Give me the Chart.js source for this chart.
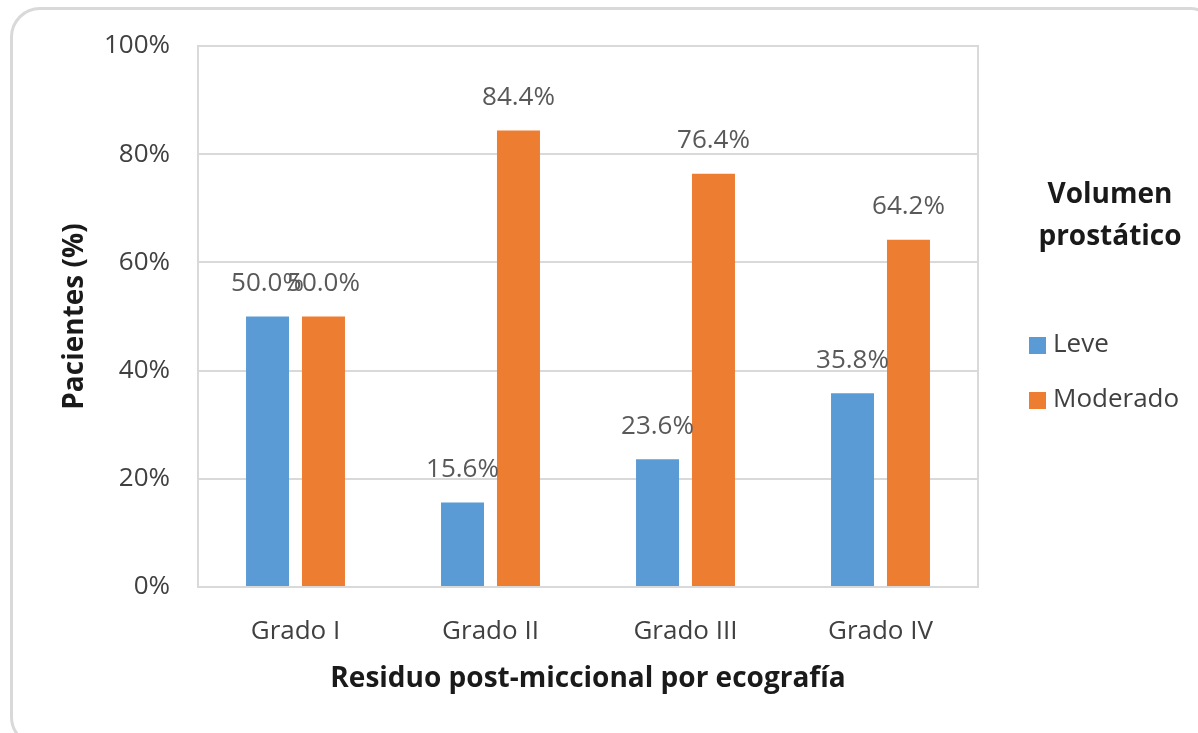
<!DOCTYPE html>
<html>
<head>
<meta charset="utf-8">
<script src="https://cdn.jsdelivr.net/npm/chart.js@4"></script>
<style>
    body { margin: 0; background: #fff; }
    #wrap { position: relative; width: 1198px; height: 733px; overflow: hidden; }
    #frame {
        position: absolute; left: 10px; top: 7px; width: 1210px; height: 740px;
        border: 3px solid #d9d9d9; border-radius: 30px; box-sizing: border-box;
    }
    #chart { position: absolute; left: 0; top: 0; }
</style>
</head>
<body>
<div id="wrap">
    <div id="frame"></div>
    <canvas id="chart" width="1198" height="733"></canvas>
</div>
<script>
    // Data
    const categories = ['Grado I', 'Grado II', 'Grado III', 'Grado IV'];
    const seriesNames = ['Leve', 'Moderado'];
    const leveValues = [50.0, 15.6, 23.6, 35.8];
    const moderadoValues = [50.0, 84.4, 76.4, 64.2];
    const seriesColors = ['#5B9BD5', '#ED7D31'];
    const legendTitle = ['Volumen', 'prostático'];

    const FONT = "'Open Sans', sans-serif";

    // Border around the plot area
    const plotBorder = {
        id: 'plotBorder',
        beforeDatasetsDraw(chart) {
            const { ctx, chartArea } = chart;
            ctx.save();
            ctx.strokeStyle = '#d9d9d9';
            ctx.lineWidth = 2;
            ctx.strokeRect(chartArea.left, chartArea.top, chartArea.right - chartArea.left, chartArea.bottom - chartArea.top);
            ctx.restore();
        }
    };

    // Value labels above the bars
    const valueLabels = {
        id: 'valueLabels',
        afterDatasetsDraw(chart) {
            const ctx = chart.ctx;
            ctx.save();
            ctx.font = '26px ' + FONT;
            ctx.fillStyle = '#595959';
            ctx.textAlign = 'center';
            ctx.textBaseline = 'middle';
            chart.data.datasets.forEach((ds, i) => {
                chart.getDatasetMeta(i).data.forEach((bar, j) => {
                    ctx.fillText(ds.data[j].toFixed(1) + '%', bar.x, bar.y - 33);
                });
            });
            ctx.restore();
        }
    };

    // Legend on the right, with a two-line bold title
    const sideLegend = {
        id: 'sideLegend',
        afterDraw(chart) {
            const ctx = chart.ctx;
            ctx.save();
            ctx.textAlign = 'center';
            ctx.textBaseline = 'middle';
            ctx.fillStyle = '#1a1a1a';
            ctx.font = 'bold 28px ' + FONT;
            legendTitle.forEach((line, i) => ctx.fillText(line, 1110, 195 + i * 42));

            ctx.textAlign = 'left';
            ctx.font = '26px ' + FONT;
            chart.data.datasets.forEach((ds, i) => {
                const y = 345 + i * 55;
                ctx.fillStyle = ds.backgroundColor;
                ctx.fillRect(1029, y - 8, 17, 17);
                ctx.fillStyle = '#404040';
                ctx.fillText(ds.label, 1053, y);
            });
            ctx.restore();
        }
    };

    new Chart(document.getElementById('chart'), {
        type: 'bar',
        data: {
            labels: categories,
            datasets: [
                { label: seriesNames[0], data: leveValues, backgroundColor: seriesColors[0] },
                { label: seriesNames[1], data: moderadoValues, backgroundColor: seriesColors[1] }
            ]
        },
        options: {
            responsive: false,
            animation: false,
            devicePixelRatio: 1,
            categoryPercentage: 0.574,
            barPercentage: 0.768,
            layout: { padding: { left: 11, top: 46, right: 220, bottom: 30 } },
            plugins: {
                legend: { display: false },
                tooltip: { enabled: false }
            },
            scales: {
                x: {
                    grid: { display: false },
                    border: { display: false },
                    ticks: { color: '#404040', font: { family: FONT, size: 26 }, padding: 21 },
                    title: {
                        display: true,
                        text: 'Residuo post-miccional por ecografía',
                        color: '#1a1a1a',
                        font: { family: FONT, size: 28, weight: 'bold' },
                        padding: { bottom: 7 }
                    },
                    afterFit(scale) { scale.height = 116; }
                },
                y: {
                    min: 0,
                    max: 100,
                    ticks: {
                        stepSize: 20,
                        color: '#404040',
                        font: { family: FONT, size: 26 },
                        padding: 28,
                        callback: v => v + '%'
                    },
                    grid: { color: '#d9d9d9', lineWidth: 2, drawTicks: false },
                    border: { display: false },
                    title: {
                        display: true,
                        text: 'Pacientes (%)',
                        color: '#1a1a1a',
                        font: { family: FONT, size: 28, weight: 'bold' },
                        padding: { top: 47 }
                    },
                    afterFit(scale) { scale.width = 187; }
                }
            }
        },
        plugins: [plotBorder, valueLabels, sideLegend]
    });
</script>
</body>
</html>
